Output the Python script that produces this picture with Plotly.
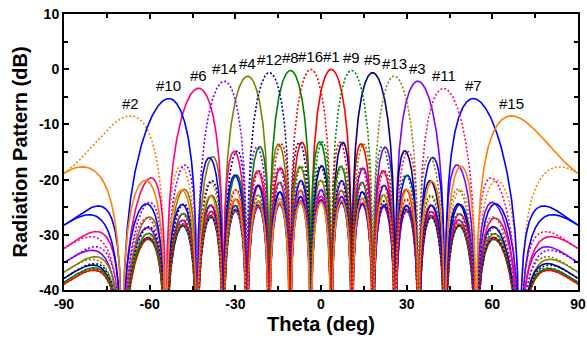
import numpy as np
import plotly.graph_objects as go

# ---- data ----
beam_labels = ["#1", "#2", "#3", "#4", "#5", "#6", "#7", "#8",
               "#9", "#10", "#11", "#12", "#13", "#14", "#15", "#16"]
# array-factor pointing angles (deg), read from where the shared nulls fall
beam_angles = [3.6, -69.6, 34.2, -25.9, 18.2, -43.4, 54.3, -10.8,
               10.8, -54.3, 43.4, -18.2, 25.9, -34.2, 69.6, -3.6]
beam_colors = ["#FF0000", "#FF8000", "#8000FF", "#808000", "#000080", "#FF0080", "#0000FF", "#008000",
               "#008000", "#0000FF", "#FF0080", "#000080", "#808000", "#8000FF", "#FF8000", "#FF0000"]
beam_dotted = [False, True, False, False, False, False, False, False,
               True, False, True, True, True, True, False, True]
n_elements = 16            # 16 orthogonal beams -> 16-element array
elem_db_lin = 12.6         # element roll-off (dB per unit of 1-cos(theta))
elem_db_cub = 2.3          # extra roll-off near endfire

x_tick_vals = [-90, -60, -30, 0, 30, 60, 90]
x_tick_text = ["-90", "-60", "-30", "0", "30", "60", "90"]
y_tick_vals = [-40, -30, -20, -10, 0, 10]
y_tick_text = ["-40", "-30", "-20", "-10", "0", "10"]

# ---- pattern model ----
theta = np.linspace(-90, 90, 3601)
u = np.sin(np.radians(theta))
one_minus_cos = 1 - np.cos(np.radians(theta))
elem_db = -elem_db_lin * one_minus_cos - elem_db_cub * one_minus_cos ** 3


def pattern_db(angle):
    x = np.pi * (u - np.sin(np.radians(angle))) / 2
    den = n_elements * np.sin(x)
    num = np.sin(n_elements * x)
    small = np.abs(den) < 1e-9
    af = np.where(small, 1.0, num / np.where(small, 1.0, den))
    return 20 * np.log10(np.maximum(np.abs(af), 1e-6)) + elem_db


fig = go.Figure()
annotations = []
for lab, ang, col, dot in zip(beam_labels, beam_angles, beam_colors, beam_dotted):
    y = pattern_db(ang)
    fig.add_trace(go.Scatter(
        x=theta, y=y, mode="lines", name=lab,
        line=dict(color=col, width=1.6, dash="2px,2px" if dot else "solid"),
        showlegend=False, hoverinfo="skip"))
    i = int(np.argmax(y))
    annotations.append(dict(x=theta[i], y=y[i] + 0.4, text=lab, showarrow=False,
                            xanchor="center", yanchor="bottom",
                            font=dict(size=15, color="black")))

axis_common = dict(
    showline=True, linecolor="black", linewidth=2, mirror="ticks",
    ticks="inside", ticklen=5, tickwidth=1.5, tickcolor="black",
    showgrid=False, zeroline=False,
    tickfont=dict(size=14, color="black", weight="bold"),
)

fig.update_layout(
    width=587, height=345,
    margin=dict(l=64, r=9, t=14, b=55, autoexpand=False),
    paper_bgcolor="white", plot_bgcolor="white",
    font=dict(family="Liberation Sans, Arial, sans-serif", color="black"),
    annotations=annotations,
    xaxis=dict(range=[-90, 90], tickmode="array", tickvals=x_tick_vals, ticktext=x_tick_text,
               minor=dict(dtick=15, ticks="inside", ticklen=4, tickwidth=1.5, tickcolor="black"),
               title=dict(text="Theta (deg)", font=dict(size=20, weight="bold"), standoff=6),
               **axis_common),
    yaxis=dict(range=[-40, 10], tickmode="array", tickvals=y_tick_vals, ticktext=y_tick_text,
               minor=dict(dtick=5, ticks="inside", ticklen=4, tickwidth=1.5, tickcolor="black"),
               title=dict(text="Radiation Pattern (dB)", font=dict(size=20, weight="bold"), standoff=6),
               **axis_common),
)

fig.write_html("out.html", config={"displayModeBar": False},
               post_script="document.body.style.margin='0px';")
